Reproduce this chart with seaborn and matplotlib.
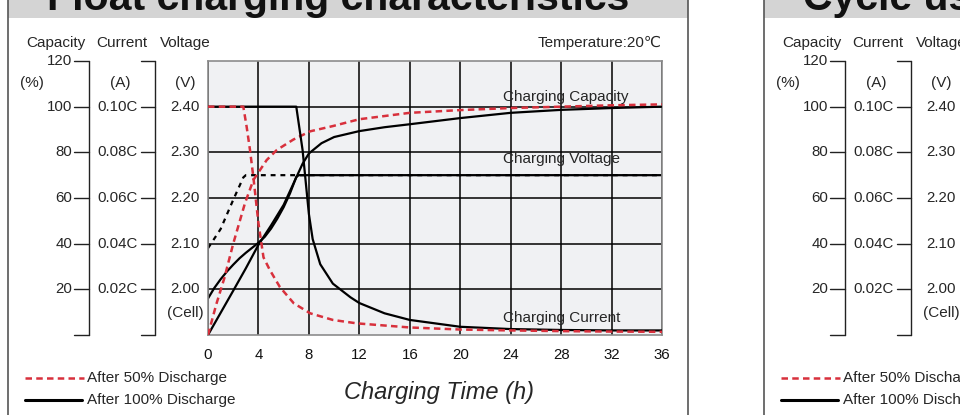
import matplotlib
matplotlib.use("Agg")
import matplotlib.pyplot as plt
import matplotlib.transforms as mtransforms
from matplotlib.patches import Rectangle
import seaborn as sns

# ---------------- data ----------------
# After 100% discharge
t_v100 = [0, 0.5, 1, 1.5, 2, 2.5, 3, 3.5, 4, 4.5, 5, 5.5, 6, 6.5, 7.0, 7.2, 36]
v100 = [1.98, 2.003, 2.022, 2.039, 2.054, 2.068, 2.080, 2.091, 2.102, 2.115, 2.133,
        2.155, 2.18, 2.21, 2.246, 2.25, 2.25]
t_cap100 = [0, 1, 2, 3, 4, 5, 6, 7, 7.5, 8, 9, 10, 12, 14, 16, 20, 24, 28, 32, 36]
cap100 = [0, 9.7, 19.4, 29.2, 39.5, 48, 57, 69, 75, 79.5, 84, 86.7, 89.3, 91, 92.3,
          95, 97.3, 98.6, 99.4, 100]
t_cur100 = [0, 7.0, 7.5, 8.0, 8.3, 8.9, 9.9, 11.3, 12, 14, 16, 20, 24, 28, 32, 36]
cur100 = [0.100, 0.100, 0.081, 0.053, 0.042, 0.031, 0.0225, 0.0165, 0.014, 0.0095,
          0.0066, 0.0036, 0.0026, 0.0022, 0.002, 0.002]
# After 50% discharge
t_v50 = [0, 1, 2, 2.8, 3.0, 36]
v50 = [2.09, 2.132, 2.196, 2.245, 2.25, 2.25]
t_cap50 = [0, 0.66, 1.3, 2.0, 2.93, 3.6, 4.65, 5.45, 6.77, 8.1, 9.9, 12, 16, 20, 24,
           28, 32, 36]
cap50 = [0, 13.5, 25, 40, 57.7, 67.9, 76.6, 81, 85.6, 89.2, 91.5, 94.5, 97.3, 98.5,
         99.4, 100, 100.6, 101]
t_cur50 = [0, 2.8, 3.07, 3.33, 3.6, 4.0, 4.4, 4.9, 5.7, 6.8, 8.1, 9.9, 11.8, 16, 20,
           24, 28, 32, 36]
cur50 = [0.100, 0.100, 0.091, 0.081, 0.069, 0.049, 0.034, 0.0285, 0.021, 0.0139,
         0.0095, 0.0066, 0.0051, 0.0033, 0.0024, 0.002, 0.0017, 0.0015, 0.0014]

# axis ticks / labels
x_ticks = [0, 4, 8, 12, 16, 20, 24, 28, 32, 36]
v_grid = [2.0, 2.1, 2.2, 2.3, 2.4]
v_labels = ["2.00", "2.10", "2.20", "2.30", "2.40"]
cap_ticks = [0, 20, 40, 60, 80, 100, 120]
cap_labels = ["20", "40", "60", "80", "100", "120"]
cur_ticks = [0, 0.02, 0.04, 0.06, 0.08, 0.10, 0.12]
cur_labels = ["0.02C", "0.04C", "0.06C", "0.08C", "0.10C"]

titles = ["Float charging characteristics", "Cycle use charging characteristics"]

# ---------------- style ----------------
sns.set_style("white")
plt.rcParams['font.family'] = ['Liberation Sans', 'DejaVu Sans']

RED = '#d8303c'
W, H = 960, 415
fig = plt.figure(figsize=(9.6, 4.15), dpi=100)
L, R, T, B = 208, 662, 61, 335
ax = fig.add_axes([L / W, 1 - B / H, (R - L) / W, (B - T) / H])
ax.set_facecolor('#f0f1f3')
ax.set_xlim(0, 36)
ax.set_ylim(1.9, 2.5)
ax_cap = ax.twinx()
ax_cap.set_ylim(0, 120)
ax_cur = ax.twinx()
ax_cur.set_ylim(0, 0.12)
for a in (ax_cap, ax_cur):
    a.set_axis_off()

ax.set_xticks(x_ticks)
ax.set_xticklabels([str(v) for v in x_ticks])
ax.set_yticks(v_grid)
ax.tick_params(axis='both', length=0, labelleft=False, labelsize=10.8, pad=9,
               labelcolor='#111111')
ax.grid(True, color='black', lw=1.1)
ax.set_axisbelow(True)
for s in ax.spines.values():
    s.set_color('#8c8c8c')
    s.set_linewidth(1.2)

lw_solid = 1.6
red_ls = (0, (2.6, 1.7))
blk_ls = (0, (2.2, 2.2))

sns.lineplot(x=t_v100, y=v100, ax=ax, color='black', lw=lw_solid, estimator=None)
sns.lineplot(x=t_v50, y=v50, ax=ax, color='black', lw=lw_solid, linestyle=blk_ls,
             estimator=None)
sns.lineplot(x=t_cap100, y=cap100, ax=ax_cap, color='black', lw=lw_solid, estimator=None)
sns.lineplot(x=t_cap50, y=cap50, ax=ax_cap, color=RED, lw=1.8, linestyle=red_ls,
             estimator=None)
sns.lineplot(x=t_cur100, y=cur100, ax=ax_cur, color='black', lw=lw_solid, estimator=None)
sns.lineplot(x=t_cur50, y=cur50, ax=ax_cur, color=RED, lw=1.8, linestyle=red_ls,
             estimator=None)
for a in (ax, ax_cap, ax_cur):
    a.set_xlim(0, 36)
ax.set_ylim(1.9, 2.5); ax_cap.set_ylim(0, 120); ax_cur.set_ylim(0, 0.12)

# ---------------- decoration layer (pixel coordinates) ----------------
deco = fig.add_axes([0, 0, 1, 1])
deco.set_xlim(0, W)
deco.set_ylim(H, 0)
deco.axis('off')

tr_cap = mtransforms.blended_transform_factory(deco.transData, ax_cap.transData)
tr_cur = mtransforms.blended_transform_factory(deco.transData, ax_cur.transData)
tr_v = mtransforms.blended_transform_factory(deco.transData, ax.transData)

FS = 11
TFS = 10.8
for p, dx in enumerate([0, 756]):
    # header band and frame
    deco.add_patch(Rectangle((8 + dx, 0), 680, 18.5, color='#d4d4d4', lw=0))
    deco.plot([8 + dx, 8 + dx], [0, H], color='#555555', lw=1.2)
    deco.plot([688 + dx, 688 + dx], [0, H], color='#555555', lw=1.2)
    deco.text(47 + dx, 10.5, titles[p], fontsize=29.5, fontweight='bold',
              ha='left', va='baseline', color='#111111')
    # axis titles
    deco.text(56 + dx, 43, "Capacity", fontsize=FS, ha='center', va='center')
    deco.text(122 + dx, 43, "Current", fontsize=FS, ha='center', va='center')
    deco.text(185 + dx, 43, "Voltage", fontsize=FS, ha='center', va='center')
    deco.text(32 + dx, 83, "(%)", fontsize=FS, ha='center', va='center')
    deco.text(120 + dx, 83, "(A)", fontsize=FS, ha='center', va='center')
    deco.text(185 + dx, 83, "(V)", fontsize=FS, ha='center', va='center')
    deco.text(185 + dx, 313, "(Cell)", fontsize=FS, ha='center', va='center')
    # capacity bracket
    deco.plot([89.3 + dx, 89.3 + dx], [cap_ticks[0], cap_ticks[-1]], transform=tr_cap,
              color='#222222', lw=1.0)
    for c in cap_ticks:
        deco.plot([74 + dx, 89.3 + dx], [c, c], transform=tr_cap, color='#222222', lw=1.0)
    for c, lab in zip(cap_ticks[1:], cap_labels):
        deco.text(72 + dx, c, lab, transform=tr_cap, fontsize=TFS, ha='right', va='center')
    # current bracket
    deco.plot([155.3 + dx, 155.3 + dx], [cur_ticks[0], cur_ticks[-1]], transform=tr_cur,
              color='#222222', lw=1.0)
    for c in cur_ticks:
        deco.plot([141 + dx, 155.3 + dx], [c, c], transform=tr_cur, color='#222222', lw=1.0)
    for c, lab in zip(cur_ticks[1:-1], cur_labels):
        deco.text(117 + dx, c, lab, transform=tr_cur, fontsize=TFS, ha='center', va='center')
    # voltage labels
    for v, lab in zip(v_grid, v_labels):
        deco.text(185 + dx, v, lab, transform=tr_v, fontsize=TFS, ha='center', va='center')
    # legend
    deco.plot([25 + dx, 84 + dx], [378, 378], color=RED, lw=1.8, linestyle=red_ls)
    deco.plot([25 + dx, 82 + dx], [400, 400], color='black', lw=2.2)
    deco.text(87 + dx, 378, "After 50% Discharge", fontsize=FS, ha='left', va='center')
    deco.text(87 + dx, 400, "After 100% Discharge", fontsize=FS, ha='left', va='center')

deco.text(662, 43, "Temperature:20\u2103", fontsize=FS, ha='right', va='center')
deco.text(503, 97, "Charging Capacity", fontsize=FS, ha='left', va='center')
deco.text(503, 159, "Charging Voltage", fontsize=FS, ha='left', va='center')
deco.text(503, 318, "Charging Current", fontsize=FS, ha='left', va='center')
deco.text(439, 392, "Charging Time (h)", fontsize=17, style='italic',
          ha='center', va='center')

fig.savefig("out.png", dpi=100)
